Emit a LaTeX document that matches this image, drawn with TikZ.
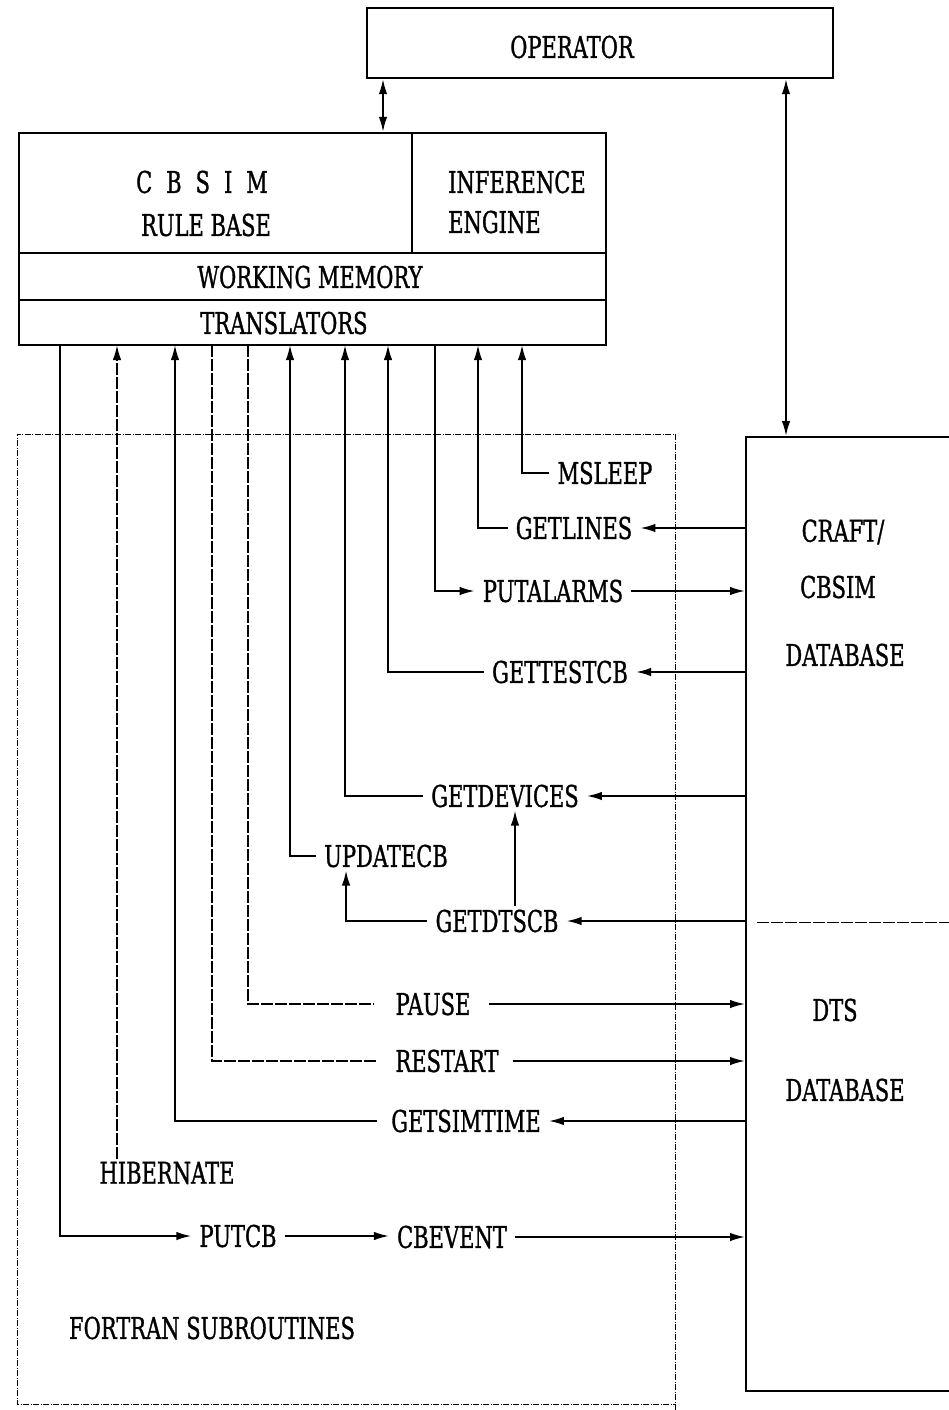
\documentclass[tikz,border=0pt]{standalone}
\usepackage{fontspec}
\setmainfont{DejaVu Serif}[FakeStretch=0.7,FakeBold=1]
\usetikzlibrary{arrows.meta,calc}
\begin{document}
\begin{tikzpicture}[x=1pt,y=-1pt,
  lbl/.style={inner xsep=8pt, inner ysep=3pt, font=\fontsize{30}{34}\selectfont},
  box/.style={draw, line width=2.3pt, inner sep=0pt},
  con/.style={line width=1.8pt},
  arr/.style={con, -{Latex[length=15pt,width=8.5pt]}},
  darr/.style={con, {Latex[length=15pt,width=8.5pt]}-{Latex[length=15pt,width=8.5pt]}},
  dsh/.style={dash pattern=on 12pt off 2pt},
]
\useasboundingbox (0,0) rectangle (949,1410);
% operator
\node[box, minimum width=466pt, minimum height=70pt] (op) at (600,43) {};
\node[lbl] (optxt) at (572,47) {OPERATOR};
% knowledge base box
\node[box, minimum width=587pt, minimum height=212pt] (kb) at (312.5,239) {};
\draw[line width=1.8pt] (412,133) -- (412,253);
\draw[line width=2.3pt] (19,253) -- (606,253);
\draw[line width=2.3pt] (19,300) -- (606,300);
\node[lbl] (cbsim) at (202,182) {\spaceskip=14pt C B S I M};
\node[lbl] (rb) at (206,225) {RULE BASE};
\node[lbl, anchor=west] (inf) at (440,182) {INFERENCE};
\node[lbl, anchor=west] (eng) at (440,222) {ENGINE};
\node[lbl] (wm) at (310,277) {WORKING MEMORY};
\node[lbl] (tr) at (284,323) {TRANSLATORS};
% database
\node[box, anchor=north west, minimum width=300pt, minimum height=954pt] (db) at (745,436) {};
\draw[line width=0.9pt, dsh] (757,922) -- (949,922);
\node[lbl] (craft) at (843,532) {CRAFT/};
\node[lbl] (cbsimdb) at (838,587) {CBSIM};
\node[lbl] (dbA) at (845,655) {DATABASE};
\node[lbl] (dts) at (835,1010) {DTS};
\node[lbl] (dbB) at (845,1090) {DATABASE};
% fortran box
\draw[line width=0.8pt, dash pattern=on 6pt off 1.5pt on 1pt off 1.5pt] (675,1410) -- (675,434) -- (17,434) -- (17,1404) -- (675,1404);
\node[lbl] (fortran) at (212,1328) {FORTRAN SUBROUTINES};
% subroutine labels
\node[lbl] (msleep) at (605,473) {MSLEEP};
\node[lbl] (getlines) at (574,528) {GETLINES};
\node[lbl] (putalarms) at (553,591) {PUTALARMS};
\node[lbl] (gettestcb) at (560,672) {GETTESTCB};
\node[lbl] (getdevices) at (505,796) {GETDEVICES};
\node[lbl] (updatecb) at (386,856) {UPDATECB};
\node[lbl] (getdtscb) at (497,921) {GETDTSCB};
\node[lbl] (pause) at (433,1004) {PAUSE};
\node[lbl] (restart) at (447,1061) {RESTART};
\node[lbl] (getsimtime) at (466,1121) {GETSIMTIME};
\node[lbl] (hibernate) at (167,1173) {HIBERNATE};
\node[lbl] (putcb) at (238,1236) {PUTCB};
\node[lbl] (cbevent) at (452,1237) {CBEVENT};
% attachment points on translators
\foreach \n/\x in {v1/60,v2/117,v3/175,v4/212,v5/248,v6/290,v7/345,v8/388,v9/435,v10/478,v11/522}
  \coordinate (\n) at (\x,345);
\coordinate (a1) at (383,0);
\coordinate (a2) at (786,0);
% connectors
\draw[darr] (op.south -| a1) -- (kb.north -| a1);
\draw[darr] (op.south -| a2) -- (db.north -| a2);
\draw[arr] (msleep.west) -| (v11);
\draw[arr] (getlines.west) -| (v10);
\draw[arr] (v9) |- (putalarms.west);
\draw[arr] (gettestcb.west) -| (v8);
\draw[arr] (getdevices.west) -| (v7);
\draw[arr] (updatecb.west) -| (v6);
\draw[con,dsh] (v5) |- ([xshift=-14pt]pause.west);
\draw[con,dsh] (v4) |- ([xshift=-10pt]restart.west);
\draw[arr] ([xshift=-6pt]getsimtime.west) -| (v3);
\draw[arr,dsh] (hibernate.north -| v2) -- (v2);
\draw[arr] (v1) |- (putcb.west);
\draw[arr] (putcb.east) -- (putcb.east -| cbevent.west);
\draw[arr] (cbevent.east) -- (cbevent.east -| db.west);
\draw[arr] (getlines.east -| db.west) -- (getlines.east);
\draw[arr] (putalarms.east) -- (putalarms.east -| db.west);
\draw[arr] (gettestcb.east -| db.west) -- (gettestcb.east);
\draw[arr] (getdevices.east -| db.west) -- (getdevices.east);
\draw[arr] (getdtscb.east -| db.west) -- (getdtscb.east);
\draw[arr] ([xshift=10pt]pause.east) -- (pause.east -| db.west);
\draw[arr] ([xshift=6pt]restart.east) -- (restart.east -| db.west);
\draw[arr] (getsimtime.east -| db.west) -- (getsimtime.east);
\draw[arr] (getdtscb.west) -| ($(updatecb.south west)+(30,0)$);
\draw[arr] ([xshift=18pt]getdtscb.north) -- ([xshift=18pt]getdtscb.north |- getdevices.south);
\end{tikzpicture}
\end{document}
